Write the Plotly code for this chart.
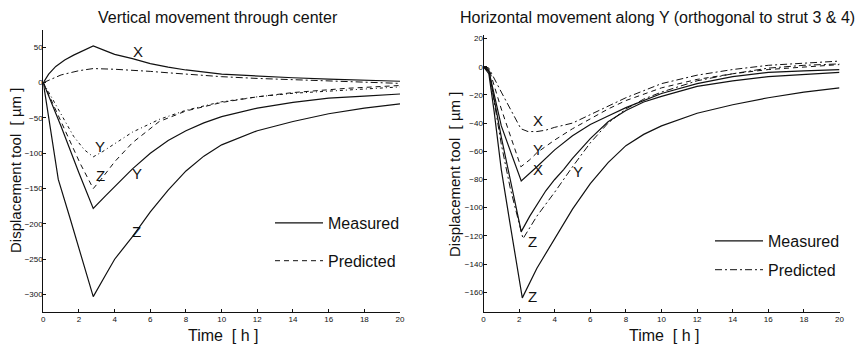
import plotly.graph_objects as go

# ---------------- Left panel: vertical movement ----------------
t_L_meas_x = [0, 0.3, 0.7, 1.2, 1.7, 2.2, 2.8, 3.5, 4, 5, 6, 7, 8, 10, 12, 14, 16, 18, 20]
L_meas_x = [0, 12, 23, 32, 39, 45, 52, 45, 40, 34, 27, 22, 18, 12, 9, 7, 5, 3, 2]
t_L_meas_y = [0, 1, 2, 2.8, 3.5, 4.3, 5, 6, 7, 8, 9, 10, 12, 14, 16, 18, 20]
L_meas_y = [0, -62, -128, -178, -160, -140, -122, -100, -82, -68, -57, -48, -36, -28, -22, -19, -16]
t_L_meas_z = [0, 0.4, 0.84, 1.5, 2.2, 2.8, 3.5, 4, 5, 6, 7, 8, 9, 10, 12, 14, 16, 18, 20]
L_meas_z = [0, -68, -137, -192, -250, -303, -272, -250, -218, -183, -152, -125, -104, -88, -68, -55, -44, -36, -30]
t_L_pred_x = [0, 0.5, 1, 2, 2.8, 4, 5, 6, 7, 8, 10, 12, 14, 16, 18, 20]
L_pred_x = [0, 6, 11, 17, 20, 19, 18, 16, 14, 12, 8.5, 6, 4, 2, 0, -1]
t_L_pred_y = [0, 1, 1.7, 2.3, 2.8, 3.3, 4, 5, 6.5, 8, 10, 12, 14, 17, 20]
L_pred_y = [0, -45, -76, -95, -105, -98, -86, -70, -52, -39, -27, -20, -15, -10, -6]
t_L_pred_z = [0, 1, 2.06, 2.8, 3.3, 4, 5, 6.5, 8, 10, 12, 14, 17, 20]
L_pred_z = [0, -55, -114, -150, -135, -112, -85, -55, -40, -28, -20, -14, -8, -4]

# ---------------- Right panel: horizontal movement along Y ----------------
t_R_meas_x = [0, 0.3, 1, 1.5, 2.12, 3, 3.5, 4, 5, 6, 7, 8, 10, 12, 14, 16, 18, 20]
R_meas_x = [0, -3, -42, -60, -81, -71, -65, -59, -49, -41, -35, -29, -19, -12, -7, -4, -3, -2]
t_R_meas_y = [0, 0.3, 1, 1.37, 2.12, 2.6, 3, 3.5, 4, 4.5, 5, 6, 7, 8, 9, 10, 12, 14, 16, 18, 20]
R_meas_y = [0, -3, -50, -73, -117, -106, -98, -88, -80, -73, -65, -51, -39, -31, -25, -21, -14, -10, -7, -5.5, -4]
t_R_meas_z = [0, 0.3, 0.6, 1, 1.5, 2.18, 3, 4, 5, 6, 7, 8, 9, 10, 12, 14, 16, 18, 20]
R_meas_z = [0, -5, -32, -73, -112, -164, -143, -122, -101, -83, -68, -56, -48, -42, -33, -27, -22, -18, -15]
t_R_pred_x = [0, 0.3, 1, 1.5, 2.1, 2.5, 3, 3.5, 4, 5, 6, 7, 8, 9, 10, 12, 14, 16, 18, 20]
R_pred_x = [0, -1, -18, -30, -44, -46, -46, -45, -43, -40, -34, -28, -22, -17, -12, -6, -2, 1, 2.5, 4]
t_R_pred_y = [0, 0.3, 1, 1.5, 2.1, 2.6, 3, 4, 5, 6, 7, 8, 10, 12, 14, 16, 18, 20]
R_pred_y = [0, -1, -30, -48, -71, -66, -61, -52, -44, -37, -30, -24, -15, -9, -5, -2, 0, 1.5]
t_R_pred_z = [0, 0.3, 1, 1.5, 2.22, 3, 4, 5, 6, 7, 8, 9, 10, 12, 14, 16, 18, 20]
R_pred_z = [0, -2, -55, -86, -122, -106, -89, -71, -54, -40, -30, -23, -18, -10, -5, -1, 1, 2]

# curve labels (text, t, value)
L_labels = [("X", 5.3, 44), ("Y", 3.19, -91), ("Z", 3.19, -131), ("Y", 5.25, -128), ("Z", 5.25, -211)]
R_labels = [("X", 3.06, -38), ("Y", 3.06, -59), ("X", 3.06, -73), ("Y", 5.31, -74.5),
            ("Z", 2.78, -124), ("Z", 2.78, -163)]

x_ticks = list(range(0, 21, 2))
L_yticks = [50, 0, -50, -100, -150, -200, -250, -300]
R_yticks = [20, 0, -20, -40, -60, -80, -100, -120, -140, -160]

# the page body has an 8px margin, so the figure is laid out in window pixels minus 8
OFF = 8
W, H = 864 - OFF, 346 - OFF
FONT = "Liberation Sans, Arial, sans-serif"
INK = "#111111"
DASH = "5px,4px"
DASHDOT = "7px,3px,2px,3px"
DOTDASH = "3px,3px,1px,3px"


def fx(px):
    return (px - OFF) / W


def fy(py):
    return 1 - (py - OFF) / H


fig = go.Figure()


def add(t, v, xa, ya, dash, name=None, legend=None, show=False, width=1.2):
    fig.add_trace(go.Scatter(
        x=t, y=v, xaxis=xa, yaxis=ya, mode="lines",
        line=dict(color=INK, width=width, dash=dash),
        name=name, showlegend=show, legend=legend,
        legendgroup=name, hoverinfo="skip"))


# left panel
add(t_L_meas_z, L_meas_z, "x", "y", "solid", "Measured", "legend", True)
add(t_L_meas_y, L_meas_y, "x", "y", "solid")
add(t_L_meas_x, L_meas_x, "x", "y", "solid")
add(t_L_pred_z, L_pred_z, "x", "y", DASH, "Predicted", "legend", True, 1.0)
add(t_L_pred_y, L_pred_y, "x", "y", DOTDASH, width=1.0)
add(t_L_pred_x, L_pred_x, "x", "y", DASHDOT, width=1.0)

# right panel
add(t_R_meas_z, R_meas_z, "x2", "y2", "solid", "Measured", "legend2", True)
add(t_R_meas_y, R_meas_y, "x2", "y2", "solid")
add(t_R_meas_x, R_meas_x, "x2", "y2", "solid")
add(t_R_pred_x, R_pred_x, "x2", "y2", DASHDOT, "Predicted", "legend2", True, 1.0)
add(t_R_pred_y, R_pred_y, "x2", "y2", DASH, width=1.0)
add(t_R_pred_z, R_pred_z, "x2", "y2", DASHDOT, width=1.0)

annotations = []
for txt, t, v in L_labels:
    annotations.append(dict(text=txt, x=t, y=v, xref="x", yref="y", showarrow=False,
                            font=dict(size=15, color=INK, family=FONT)))
for txt, t, v in R_labels:
    annotations.append(dict(text=txt, x=t, y=v, xref="x2", yref="y2", showarrow=False,
                            font=dict(size=15, color=INK, family=FONT)))


def px_ann(text, xpx, ypx, size, angle=0):
    annotations.append(dict(text=text, x=fx(xpx), y=fy(ypx), xref="paper", yref="paper",
                            showarrow=False, textangle=angle, xanchor="center", yanchor="middle",
                            font=dict(size=size, color=INK, family=FONT)))


px_ann("Vertical movement through center", 217.5, 17.5, 16)
px_ann("Horizontal movement along Y (orthogonal to strut 3 & 4)", 657.5, 17.5, 16)
px_ann("Time  [ h ]", 223, 335, 16)
px_ann("Time  [ h ]", 664, 335, 16)
px_ann("Displacement tool  [ µm ]", 15, 171, 15, -90)
px_ann("Displacement tool  [ µm ]", 454, 175, 15, -90)

axis_common = dict(showgrid=False, zeroline=False, showline=True, linecolor=INK, linewidth=1,
                   ticks="inside", ticklen=3, tickwidth=1, tickcolor=INK, mirror=False,
                   tickfont=dict(size=8, color=INK, family=FONT))

fig.update_layout(
    width=W, height=H, margin=dict(l=0, r=0, t=0, b=0, autoexpand=False),
    paper_bgcolor="white", plot_bgcolor="white",
    xaxis=dict(domain=[fx(43.3), fx(400)], range=[0, 20], tickvals=x_ticks, anchor="y", **axis_common),
    yaxis=dict(domain=[fy(311.7), fy(30)], range=[-324.3, 74.6], tickvals=L_yticks,
               anchor="x", ticklabelstandoff=-2, **axis_common),
    xaxis2=dict(domain=[fx(483.5), fx(839.5)], range=[0, 20], tickvals=x_ticks, anchor="y2", **axis_common),
    yaxis2=dict(domain=[fy(311.7), fy(35)], range=[-173.8, 22.5], tickvals=R_yticks,
                anchor="x2", ticklabelstandoff=-2, **axis_common),
    legend=dict(x=fx(270), y=fy(206), xanchor="left", yanchor="top", bgcolor="rgba(0,0,0,0)",
                font=dict(size=16, color=INK, family=FONT), itemwidth=48,
                traceorder="grouped", tracegroupgap=14),
    legend2=dict(x=fx(710), y=fy(224), xanchor="left", yanchor="top", bgcolor="rgba(0,0,0,0)",
                 font=dict(size=16, color=INK, family=FONT), itemwidth=48,
                 traceorder="grouped", tracegroupgap=5),
    annotations=annotations,
)

fig.write_html("out.html")
